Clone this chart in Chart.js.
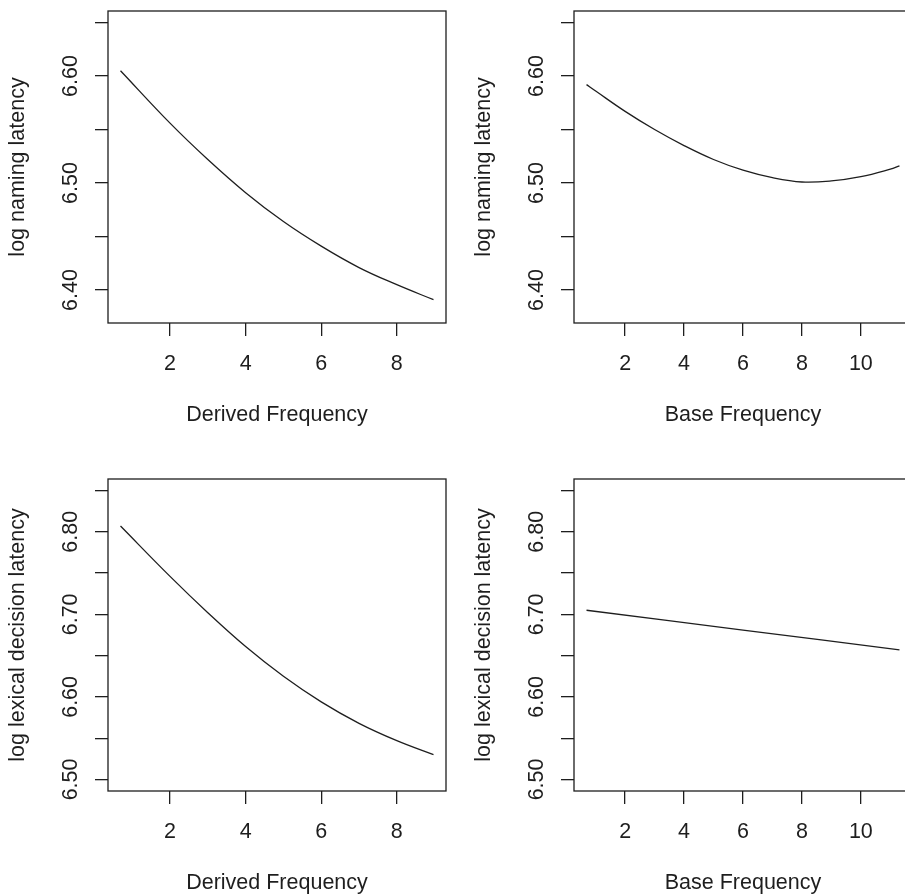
<!DOCTYPE html>
<html>
<head>
<meta charset="utf-8">
<title>Partial effects of frequency on latency</title>
<script src="https://cdn.jsdelivr.net/npm/chart.js@4/dist/chart.umd.min.js"></script>
<style>
    body { margin: 0; background: #fff; overflow: hidden; }
    #figure { position: relative; width: 905px; height: 894px; overflow: hidden; }
    #figure canvas { position: absolute; }
</style>
</head>
<body>
<div id="figure">
    <canvas id="namingDerived" width="455" height="428" style="left:0px; top:0px;"></canvas>
    <canvas id="namingBase" width="455" height="428" style="left:466px; top:0px;"></canvas>
    <canvas id="lexdecDerived" width="455" height="428" style="left:0px; top:468px;"></canvas>
    <canvas id="lexdecBase" width="455" height="428" style="left:466px; top:468px;"></canvas>
</div>
<script>
// --- Data ---
const derivedFreq = [0.69, 2, 3, 4, 5, 6, 7, 8, 8.97];
const namingByDerived = [6.605, 6.556, 6.522, 6.491, 6.464, 6.441, 6.421, 6.405, 6.391];
const lexdecByDerived = [6.807, 6.746, 6.702, 6.661, 6.625, 6.594, 6.568, 6.547, 6.530];

const baseFreq = [0.69, 1, 2, 3, 4, 5, 6, 7, 8, 9, 10, 11, 11.31];
const namingByBase = [6.592, 6.586, 6.567, 6.550, 6.535, 6.522, 6.512, 6.505, 6.501, 6.502, 6.506, 6.513, 6.516];

// the lexical decision / base frequency effect is a straight line
const baseFreqLinear = [0.69, 6, 11.31];
const lexdecByBase = [6.705, 6.681, 6.657];

// --- Axis ticks and ranges ---
const derivedTicks = [2, 4, 6, 8];
const baseTicks = [2, 4, 6, 8, 10];
const namingTicks = [6.40, 6.45, 6.50, 6.55, 6.60, 6.65];
const namingTickLabels = ['6.40', '', '6.50', '', '6.60', ''];
const lexdecTicks = [6.50, 6.55, 6.60, 6.65, 6.70, 6.75, 6.80, 6.85];
const lexdecTickLabels = ['6.50', '', '6.60', '', '6.70', '', '6.80', ''];

const derivedRange = [0.359, 9.301];
const baseRange = [0.265, 11.735];
const namingRange = [6.3692, 6.6608];
const lexdecRange = [6.486, 6.864];

const INK = '#1e1e1e';
const FONT = { family: '"Liberation Sans", Arial, Helvetica, sans-serif', size: 21.5, lineHeight: 1.2 };

// draws the closed box round the plot region, like R's box()
const boxPlugin = {
    id: 'plotBox',
    afterDraw(chart) {
        const a = chart.chartArea;
        const ctx = chart.ctx;
        ctx.save();
        ctx.strokeStyle = INK;
        ctx.lineWidth = 1.3;
        ctx.strokeRect(a.left, a.top, a.right - a.left, a.bottom - a.top);
        ctx.restore();
    }
};

function makePanel(canvasId, xs, ys, xTitle, yTitle, xRange, yRange, xTicks, yTicks, yLabels) {
    const ctx = document.getElementById(canvasId);
    const points = xs.map((x, i) => ({ x: x, y: ys[i] }));

    return new Chart(ctx, {
        type: 'line',
        data: {
            datasets: [{
                data: points,
                borderColor: INK,
                borderWidth: 1.3,
                pointRadius: 0,
                fill: false,
                tension: 0.4
            }]
        },
        plugins: [boxPlugin],
        options: {
            responsive: false,
            animation: false,
            layout: { padding: { top: 11, right: 9, bottom: 0, left: 0 } },
            plugins: {
                legend: { display: false },
                tooltip: { enabled: false }
            },
            scales: {
                x: {
                    type: 'linear',
                    min: xRange[0],
                    max: xRange[1],
                    afterBuildTicks: scale => { scale.ticks = xTicks.map(v => ({ value: v })); },
                    afterFit: scale => {
                        scale.height = 105;
                        scale.paddingLeft = 0;
                        scale.paddingRight = 0;
                    },
                    border: { display: false },
                    grid: { drawOnChartArea: false, drawTicks: true, tickLength: 13, color: INK, lineWidth: 1.3 },
                    ticks: {
                        autoSkip: false,
                        maxRotation: 0,
                        padding: 15,
                        color: INK,
                        font: FONT,
                        callback: value => String(value)
                    },
                    title: { display: true, text: xTitle, color: INK, font: FONT, padding: { top: 0, bottom: 0 } }
                },
                y: {
                    type: 'linear',
                    min: yRange[0],
                    max: yRange[1],
                    afterBuildTicks: scale => { scale.ticks = yTicks.map(v => ({ value: v })); },
                    afterFit: scale => {
                        scale.width = 108;
                        scale.paddingTop = 0;
                        scale.paddingBottom = 0;
                    },
                    border: { display: false },
                    grid: { drawOnChartArea: false, drawTicks: true, tickLength: 13, color: INK, lineWidth: 1.3 },
                    ticks: {
                        autoSkip: false,
                        minRotation: 90,
                        maxRotation: 90,
                        crossAlign: 'center',
                        padding: 3,
                        color: INK,
                        font: FONT,
                        callback: (value, index) => yLabels[index]
                    },
                    title: { display: true, text: yTitle, color: INK, font: FONT, padding: { top: 5.5, bottom: 0 } }
                }
            }
        }
    });
}

// --- Build the four panels ---
makePanel('namingDerived', derivedFreq, namingByDerived, 'Derived Frequency', 'log naming latency',
    derivedRange, namingRange, derivedTicks, namingTicks, namingTickLabels);
makePanel('namingBase', baseFreq, namingByBase, 'Base Frequency', 'log naming latency',
    baseRange, namingRange, baseTicks, namingTicks, namingTickLabels);
makePanel('lexdecDerived', derivedFreq, lexdecByDerived, 'Derived Frequency', 'log lexical decision latency',
    derivedRange, lexdecRange, derivedTicks, lexdecTicks, lexdecTickLabels);
makePanel('lexdecBase', baseFreqLinear, lexdecByBase, 'Base Frequency', 'log lexical decision latency',
    baseRange, lexdecRange, baseTicks, lexdecTicks, lexdecTickLabels);
</script>
</body>
</html>
